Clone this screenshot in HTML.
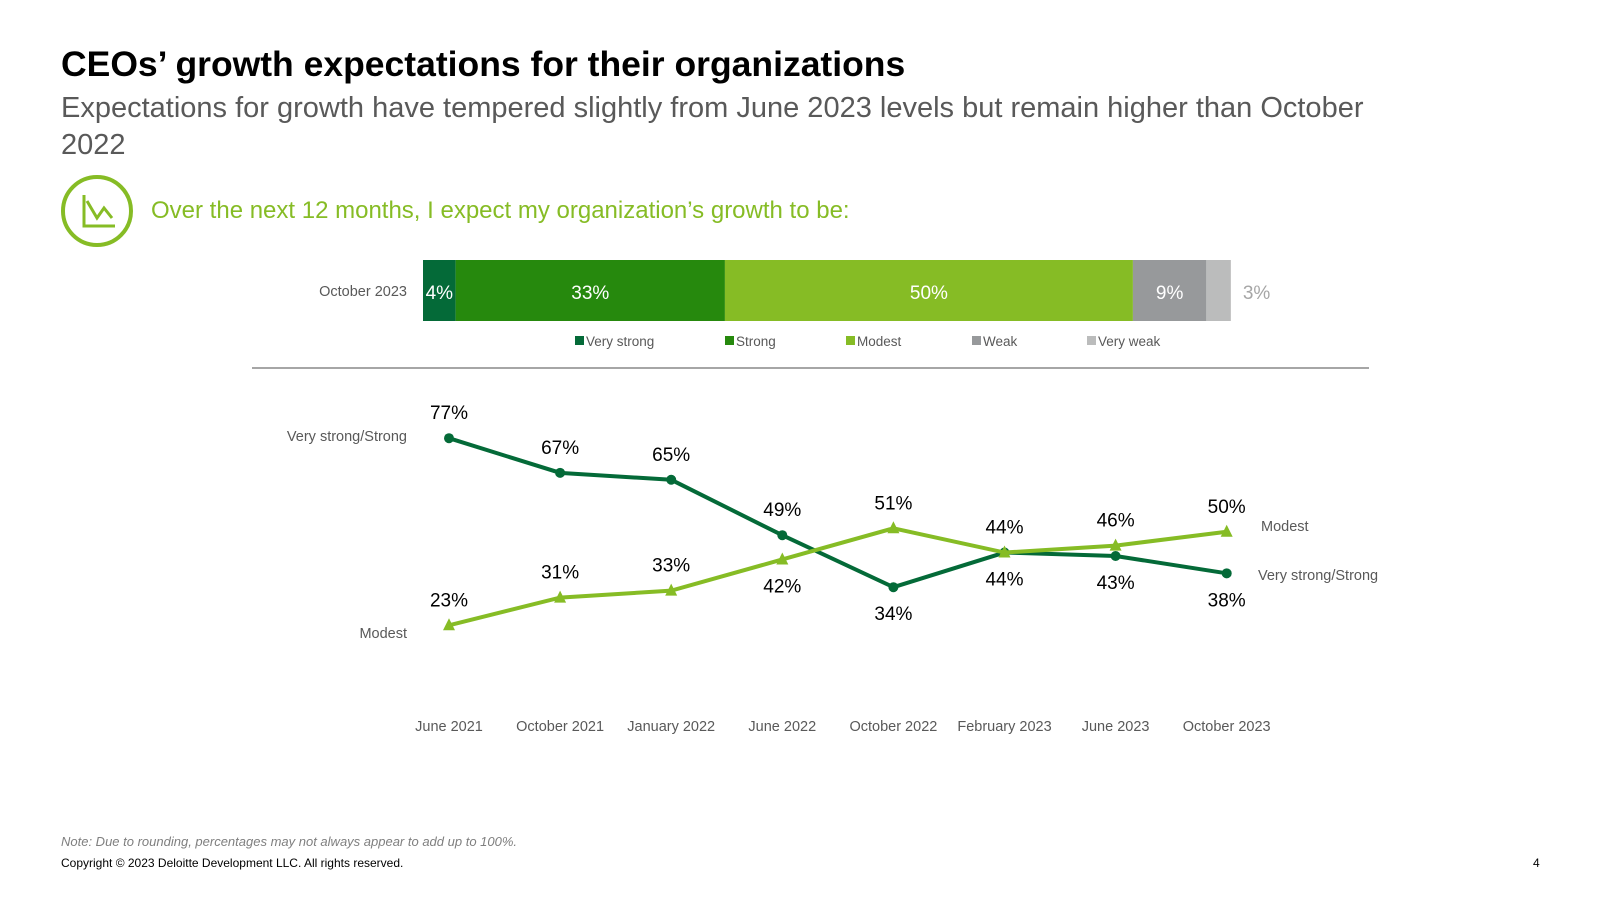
<!DOCTYPE html>
<html><head><meta charset="utf-8"><style>
body{margin:0;background:#fff;}
#root{position:relative;width:1600px;height:900px;overflow:hidden;font-family:"Liberation Sans",sans-serif;}
.t{position:absolute;white-space:nowrap;}
</style></head><body>
<div id="root">
<div class="t" style="left:61px;top:44px;font-size:35.5px;font-weight:bold;color:#000;">CEOs’ growth expectations for their organizations</div>
<div class="t" style="left:61px;top:90px;font-size:29px;color:#595959;white-space:normal;width:1340px;line-height:37px;">Expectations for growth have tempered slightly from June 2023 levels but remain higher than October 2022</div>
<svg style="position:absolute;left:59px;top:173px" width="78" height="78"><circle cx="38" cy="38" r="34" fill="none" stroke="#86bc25" stroke-width="4"/><polyline points="25,22 25,53 56,53" fill="none" stroke="#86bc25" stroke-width="3"/><polyline points="28,28 38,45 45,35 53,45" fill="none" stroke="#86bc25" stroke-width="3"/></svg>
<div class="t" style="left:151px;top:197px;font-size:24px;color:#86bc25;">Over the next 12 months, I expect my organization’s growth to be:</div>
<svg id="chart" width="1600" height="900" style="position:absolute;left:0;top:0"></svg>
<div class="t" style="left:61px;top:834px;font-size:13px;font-style:italic;color:#7f7f7f;">Note: Due to rounding, percentages may not always appear to add up to 100%.</div>
<div class="t" style="left:61px;top:856px;font-size:12px;color:#000;">Copyright © 2023 Deloitte Development LLC. All rights reserved.</div>
<div class="t" style="left:1533px;top:856px;font-size:12px;color:#000;">4</div>
</div>
<script>
const barCategories=["Very strong","Strong","Modest","Weak","Very weak"];
const barValues=[4,33,50,9,3];
const barColors=["#046a38","#26890d","#86bc25","#97999b","#bbbcbc"];
const lineCategories=["June 2021","October 2021","January 2022","June 2022","October 2022","February 2023","June 2023","October 2023"];
const strongValues=[77,67,65,49,34,44,43,38];
const modestValues=[23,31,33,42,51,44,46,50];
const strongLabelPos=[-1,-1,-1,-1,1,1,1,1];
const modestLabelPos=[-1,-1,-1,1,-1,-1,-1,-1];
const svg=document.getElementById('chart');
const NS="http://www.w3.org/2000/svg";
function mk(tag,attrs,parent){const e=document.createElementNS(NS,tag);for(const k in attrs)e.setAttribute(k,attrs[k]);(parent||svg).appendChild(e);return e;}
const bx=(v)=>423+v*8.16;
let acc=0;
mk('text',{x:407,y:296,'text-anchor':'end','font-size':14.5,fill:'#595959'}).textContent="October 2023";
barValues.forEach((v,i)=>{
  const r=mk('rect',{x:bx(acc),y:260,width:v*8.16,height:61,fill:barColors[i]});
  
  
  const inside=i<4;
  const t=mk('text',{x:inside?bx(acc+v/2):bx(acc+v)+12,y:299,'text-anchor':inside?'middle':'start','font-size':19,fill:inside?'#fff':'#a6a6a6'});
  t.textContent=v+'%';
  
  
  acc+=v;
});
const legX=[575,725,846,972,1087];
barCategories.forEach((c,i)=>{
  const g=mk('g',{});
  
  
  mk('rect',{x:legX[i],y:336,width:9,height:9,fill:barColors[i]},g);
  mk('text',{x:legX[i]+11,y:346,'font-size':13.5,fill:'#595959'},g).textContent=c;
});
mk('line',{x1:252,y1:368,x2:1369,y2:368,stroke:'#a6a6a6','stroke-width':2});
const xs=(i)=>449+i*111.1;
const ys=(v)=>705-3.465*v;
function series(vals,color,tri,pos,name){
  const pl=mk('polyline',{points:vals.map((v,i)=>xs(i)+','+ys(v)).join(' '),fill:'none',stroke:color,'stroke-width':4});
  
  
  vals.forEach((v,i)=>{
    const x=xs(i),y=ys(v);
    let m;
    if(tri)m=mk('polygon',{points:`${x},${y-7} ${x-6},${y+5} ${x+6},${y+5}`,fill:color});
    else m=mk('circle',{cx:x,cy:y,r:5,fill:color});
    
    
    const t=mk('text',{x:x,y:y+pos[i]*26+7,'text-anchor':'middle','font-size':19,fill:'#000'});
    t.textContent=v+'%';
    
    
  });
}
series(strongValues,'#046a38',false,strongLabelPos,'strong');
series(modestValues,'#86bc25',true,modestLabelPos,'modest');
lineCategories.forEach((c,i)=>{
  const t=mk('text',{x:xs(i),y:731,'text-anchor':'middle','font-size':14.5,fill:'#595959'});
  t.textContent=c;
  
  
});
mk('text',{x:407,y:441,'text-anchor':'end','font-size':14.5,fill:'#595959'}).textContent="Very strong/Strong";
mk('text',{x:407,y:638,'text-anchor':'end','font-size':14.5,fill:'#595959'}).textContent="Modest";
mk('text',{x:1261,y:531,'font-size':14.5,fill:'#595959'}).textContent="Modest";
mk('text',{x:1258,y:580,'font-size':14.5,fill:'#595959'}).textContent="Very strong/Strong";
</script>
</body></html>
